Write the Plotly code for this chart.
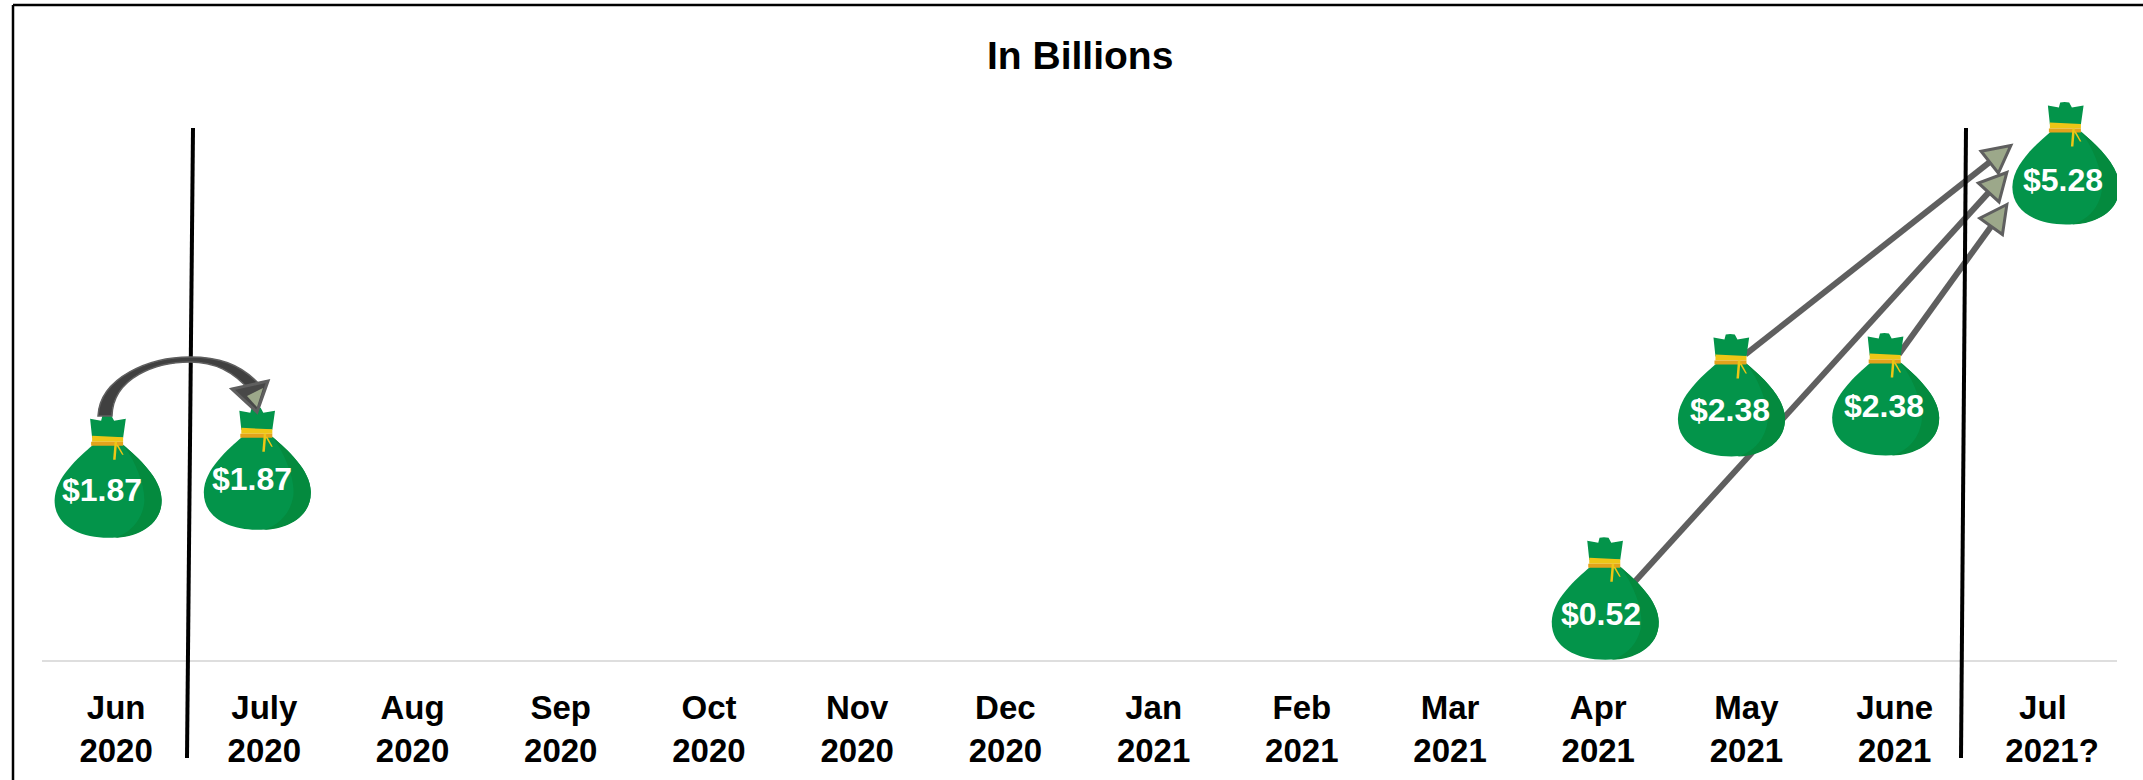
import math
import plotly.graph_objects as go

# Months along the axis and the monthly figures, in billions of dollars
months = ["Jun<br>2020", "July<br>2020", "Aug<br>2020", "Sep<br>2020", "Oct<br>2020",
          "Nov<br>2020", "Dec<br>2020", "Jan<br>2021", "Feb<br>2021", "Mar<br>2021",
          "Apr<br>2021", "May<br>2021", "June<br>2021", "Jul<br>\u00a0\u00a02021?"]
month_index = [0, 1, 10, 11, 12, 13]
billions = [1.87, 1.87, 0.52, 2.38, 2.38, 5.28]

# Hand placement of each money bag around its month and value, in pixels: (right, up)
bag_nudge = [(-8, -48), (-7, -40), (7, -47), (-15, -13), (-9, -12), (23, -45)]
label_nudge = [(-14, 0), (-12, 11), (3, -1), (-16, 33), (-11, 37), (20, -1)]

# Connectors between bags: source bag, target bag, start and tip relative to bag foot
connectors = [
    (3, 5, (14, 102), (-55, 79)),
    (2, 5, (24, 72), (-59, 52)),
    (4, 5, (13, 101), (-59, 20)),
]

W, H = 2143, 780
LEFT, RIGHT, TOP, BOTTOM = 42, 26, 32, 120
PLOT_W = W - LEFT - RIGHT
PLOT_H = H - TOP - BOTTOM
PX_PER_MONTH = PLOT_W / 14
Y_MAX = 6.9
PX_PER_USD = PLOT_H / Y_MAX

FONT = "Liberation Sans"
GREEN, GREEN_DARK = "#03944A", "#048A3E"
GOLD, GOLD_DARK = "#EEC616", "#E3A31C"
ARROW_LINE, ARROW_FILL = "#5F5F5F", "#9CA88A"


def page_x(px):
    return (px - LEFT) / PLOT_W


def page_y(py):
    return (H - BOTTOM - py) / PLOT_H


def anchored(i, path, **style):
    """Path in pixels around the data point of bag i."""
    return dict(type="path", xref="x", yref="y", xsizemode="pixel", ysizemode="pixel",
                xanchor=month_index[i], yanchor=billions[i], path=path, layer="above", **style)


def shifted(i, points):
    dx, dy = bag_nudge[i]
    return [(x + dx, y + dy) for x, y in points]


def poly(points):
    return "M " + " L ".join(f"{x:.1f} {y:.1f}" for x, y in points) + " Z"


def curve(i, start, *segments):
    dx, dy = bag_nudge[i]
    d = f"M {start[0] + dx} {start[1] + dy}"
    for seg in segments:
        d += " C " + " ".join(f"{x + dx} {y + dy}" for x, y in seg)
    return d + " Z"


def bag_shapes(i):
    shapes = []
    # Body
    shapes.append(anchored(i, curve(i, (-15, 93),
                                    [(-30, 80), (-53, 60), (-53.5, 38)],
                                    [(-54, 12), (-28, 0), (0, 0)],
                                    [(28, 0), (54, 12), (53.5, 38)],
                                    [(53, 60), (30, 80), (15, 93)]),
                           fillcolor=GREEN, line=dict(width=0)))
    # Shaded right flank
    shapes.append(anchored(i, curve(i, (15, 93),
                                    [(28, 76), (38, 50), (36, 34)],
                                    [(33, 14), (18, 3), (6, 0)],
                                    [(28, 0), (54, 12), (53.5, 38)],
                                    [(53, 60), (30, 80), (15, 93)]),
                           fillcolor=GREEN_DARK, line=dict(width=0)))
    # Neck with its crown
    shapes.append(anchored(i, poly(shifted(i, [(-18, 119), (-7, 117), (-5.7, 122), (-1.3, 122.5),
                                               (3.3, 122), (6, 117), (17.7, 119), (15, 100), (-16, 100)])),
                           fillcolor=GREEN, line=dict(width=0)))
    # Tie band
    shapes.append(anchored(i, poly(shifted(i, [(-16, 102), (15, 100.5), (15, 96), (-16, 96)])),
                           fillcolor=GOLD, line=dict(width=0)))
    shapes.append(anchored(i, poly(shifted(i, [(-17, 96), (15, 96), (15, 92), (-17, 92)])),
                           fillcolor=GOLD_DARK, line=dict(width=0)))
    # Loose strings
    shapes.append(anchored(i, poly(shifted(i, [(6.5, 96), (9, 96), (7.5, 78), (5, 78)])),
                           fillcolor=GOLD, line=dict(width=0)))
    shapes.append(anchored(i, poly(shifted(i, [(8, 93), (10, 93), (15.5, 83), (14, 83)])),
                           fillcolor=GOLD, line=dict(width=0)))
    return shapes


def connector_shapes(src, dst, start, tip):
    sx, sy = bag_nudge[src]
    tx, ty = bag_nudge[dst]
    x0, y0 = start[0] + sx, start[1] + sy
    x1 = (month_index[dst] - month_index[src]) * PX_PER_MONTH + tx + tip[0]
    y1 = (billions[dst] - billions[src]) * PX_PER_USD + ty + tip[1]
    length = math.hypot(x1 - x0, y1 - y0)
    ux, uy = (x1 - x0) / length, (y1 - y0) / length
    head_len, half = 27, 14
    bx, by = x1 - ux * head_len, y1 - uy * head_len
    head = [(x1, y1), (bx - uy * half, by + ux * half), (bx + uy * half, by - ux * half)]
    line = anchored(src, f"M {x0:.1f} {y0:.1f} L {bx:.1f} {by:.1f}",
                    line=dict(color=ARROW_LINE, width=6))
    tri = anchored(src, poly(head), fillcolor=ARROW_FILL, line=dict(color=ARROW_LINE, width=3))
    return [line, tri]


def page_line(x0, y0, x1, y1, width):
    return dict(type="line", xref="paper", yref="paper", layer="above",
                x0=page_x(x0), x1=page_x(x1), y0=page_y(y0), y1=page_y(y1),
                line=dict(color="black", width=width))


def page_path(points, **style):
    return dict(type="path", xref="paper", yref="paper", layer="above",
                path=points, **style)


def to_paper(*pts):
    return [f"{page_x(x):.5f} {page_y(y):.5f}" for x, y in pts]


shapes = []
for conn in connectors:
    shapes += connector_shapes(*conn)

# Period dividers
shapes.append(page_line(193, 128, 187, 758, 4))
shapes.append(page_line(1966, 128, 1961, 758, 4))

for i in range(len(billions)):
    shapes += bag_shapes(i)

# Curved arrow from the first bag to the second, tapering at the crown of the arc
a = to_paper((98, 416), (100, 377), (150, 357), (190, 357), (217, 357), (240, 363), (260, 385),
             (252, 393), (233, 370), (213, 362), (190, 362), (157, 362), (113, 377), (112, 416))
arc = f"M {a[0]} C {a[1]} {a[2]} {a[3]} C {a[4]} {a[5]} {a[6]} L {a[7]} C {a[8]} {a[9]} {a[10]} C {a[11]} {a[12]} {a[13]} Z"
shapes.append(page_path(arc, fillcolor="#404040", line=dict(color=ARROW_LINE, width=1.5)))
h = to_paper((232, 389), (268, 381), (257, 412))
shapes.append(page_path(f"M {h[0]} L {h[1]} L {h[2]} Z", fillcolor="#484848",
                        line=dict(color=ARROW_LINE, width=3)))
k = to_paper((247, 396), (263, 388), (257, 407))
shapes.append(page_path(f"M {k[0]} L {k[1]} L {k[2]} Z", fillcolor=ARROW_FILL,
                        line=dict(width=0)))

# Outer frame, open at the bottom
shapes.append(page_line(13, 5, 13, 780, 2.5))
shapes.append(page_line(13, 5, 2143, 5, 2.5))

# Values written on the bags
annotations = [
    dict(x=month_index[i], y=billions[i], xref="x", yref="y", text=f"${billions[i]:.2f}",
         xshift=label_nudge[i][0], yshift=label_nudge[i][1], showarrow=False,
         font=dict(family=FONT, size=32, color="white", weight="bold"))
    for i in range(len(billions))
]
annotations.append(dict(x=page_x(1080), y=page_y(55), xref="paper", yref="paper",
                        xanchor="center", yanchor="middle",
                        text="In Billions", showarrow=False,
                        font=dict(family=FONT, size=39, color="black", weight="bold")))

fig = go.Figure()
fig.add_trace(go.Scatter(x=month_index, y=billions, mode="markers", marker=dict(size=1, opacity=0),
                         hovertemplate="$%{y:.2f}B<extra></extra>", showlegend=False))
fig.update_layout(
    width=W, height=H, autosize=False,
    margin=dict(l=LEFT, r=RIGHT, t=TOP, b=BOTTOM, pad=0),
    paper_bgcolor="white", plot_bgcolor="white",
    showlegend=False,
    shapes=shapes,
    annotations=annotations,
    xaxis=dict(range=[-0.5, 13.5], tickmode="array", tickvals=list(range(14)), ticktext=months,
               tickangle=0, showgrid=False, zeroline=False, showline=True, linecolor="#DEDEDE",
               linewidth=2, ticks="", ticklabelstandoff=17, automargin=False,
               tickfont=dict(family=FONT, size=33, color="black", weight="bold")),
    yaxis=dict(range=[0, Y_MAX], visible=False, showgrid=False, zeroline=False, automargin=False),
)
fig.write_html("out.html")
